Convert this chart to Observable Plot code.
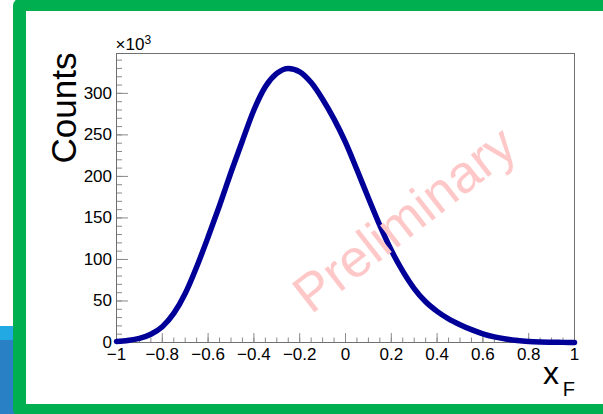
<!DOCTYPE html>
<html>
<head>
<meta charset="utf-8">
<script src="https://cdn.jsdelivr.net/npm/d3@7"></script>
<script src="https://cdn.jsdelivr.net/npm/@observablehq/plot@0.6"></script>
<style>
  html, body { margin: 0; padding: 0; background: white; }
  #wrap { position: relative; width: 603px; height: 414px; overflow: hidden; background: white; }
  .deco { position: absolute; box-sizing: border-box; }
  #chart { position: absolute; left: 0; top: 0; }
</style>
</head>
<body>
<div id="wrap">
  <div class="deco" style="left:0;top:326px;width:16px;height:14px;background:#22a9e3;"></div>
  <div class="deco" style="left:0;top:340px;width:16px;height:80px;background:#2a80c5;"></div>
  <div class="deco" style="left:13px;top:-2px;width:640px;height:419px;border:13px solid #00b050;border-radius:8px;background:white;"></div>
  <div id="chart"></div>
</div>
<script>
// x_F bin centres (sampled) and counts in units of 10^3
const xF = [-1.00,-0.95,-0.90,-0.85,-0.80,-0.75,-0.70,-0.65,-0.60,-0.55,-0.50,-0.45,-0.40,-0.35,-0.30,-0.25,-0.20,-0.15,-0.10,-0.05,
            0.00,0.05,0.10,0.15,0.20,0.25,0.30,0.35,0.40,0.45,0.50,0.55,0.60,0.65,0.70,0.75,0.80,0.85,0.90,0.95,1.00];
const countsK = [1.3,2.5,5,10,19,35,59,91,127,165,205,243,280,308,324,330,326,313,293,269,
                 241,208,174,141,111,86,65,49,37.5,28.5,21.5,15.5,10.5,6.8,4.2,2.4,1.3,0.7,0.35,0.15,0.05];

const xTicks = [-1,-0.8,-0.6,-0.4,-0.2,0,0.2,0.4,0.6,0.8,1];
const yTicks = [0,50,100,150,200,250,300];
const xMinor = d3.ticks(-1, 1, 40);
const yMinor = d3.range(0, 341, 10);

const data = xF.map((x, i) => ({x, y: countsK[i]}));

const W = 603, H = 414, mL = 116, mR = 29, mT = 53, mB = 72;
const frameW = W - mL - mR, frameH = H - mT - mB;
const fmt = d => d < 0 ? "\u2212" + Math.abs(d) : String(d);
const tickColor = "#8a8a8a";

const chart = Plot.plot({
  width: W, height: H,
  marginLeft: mL, marginRight: mR, marginTop: mT, marginBottom: mB,
  style: {background: "transparent", fontFamily: "'Liberation Sans', Arial, sans-serif", fontSize: "17px", color: "black", overflow: "visible"},
  x: {domain: [-1, 1]},
  y: {domain: [0, 348]},
  marks: [
    Plot.tickX(xMinor, {x: d => d, stroke: tickColor, insetTop: frameH - 4.5}),
    Plot.tickX(xTicks, {x: d => d, stroke: tickColor, insetTop: frameH - 9}),
    Plot.tickY(yMinor, {y: d => d, stroke: tickColor, insetRight: frameW - 6}),
    Plot.tickY(yTicks, {y: d => d, stroke: tickColor, insetRight: frameW - 12}),
    Plot.axisX({ticks: xTicks, tickSize: 0, tickPadding: 5.5, tickFormat: fmt, fontSize: 17, label: null}),
    Plot.axisY({ticks: yTicks, tickSize: 0, tickPadding: 4.5, tickFormat: d => String(d), fontSize: 17, label: null}),
    Plot.frame({stroke: "#707070"}),
    Plot.line(data, {x: "x", y: "y", stroke: "#000099", strokeWidth: 5.5, curve: "monotone-x"}),
    Plot.text(["Preliminary"], {text: d => d, frameAnchor: "top-left", dx: 299, dy: 180, rotate: -38, textAnchor: "middle", lineAnchor: "bottom", fontSize: 53, fill: "#ffc8c8"}),
    Plot.text(["Counts"], {text: d => d, frameAnchor: "top-left", dx: -41, dy: -1, rotate: -90, textAnchor: "end", lineAnchor: "bottom", fontSize: 35, fill: "black"}),
    Plot.text(["\u00d710"], {text: d => d, frameAnchor: "top-left", dx: -1, dy: -4, textAnchor: "start", lineAnchor: "bottom", fontSize: 17, fill: "black"}),
    Plot.text(["3"], {text: d => d, frameAnchor: "top-left", dx: 28, dy: -9.5, textAnchor: "start", lineAnchor: "bottom", fontSize: 12, fill: "black"}),
    Plot.text(["x"], {text: d => d, frameAnchor: "bottom-right", dx: -15.5, dy: 41.5, textAnchor: "end", lineAnchor: "bottom", fontSize: 32, fill: "black"}),
    Plot.text(["F"], {text: d => d, frameAnchor: "bottom-right", dx: 0.5, dy: 53, textAnchor: "end", lineAnchor: "bottom", fontSize: 20, fill: "black"})
  ]
});
document.getElementById("chart").appendChild(chart);
</script>
</body>
</html>
